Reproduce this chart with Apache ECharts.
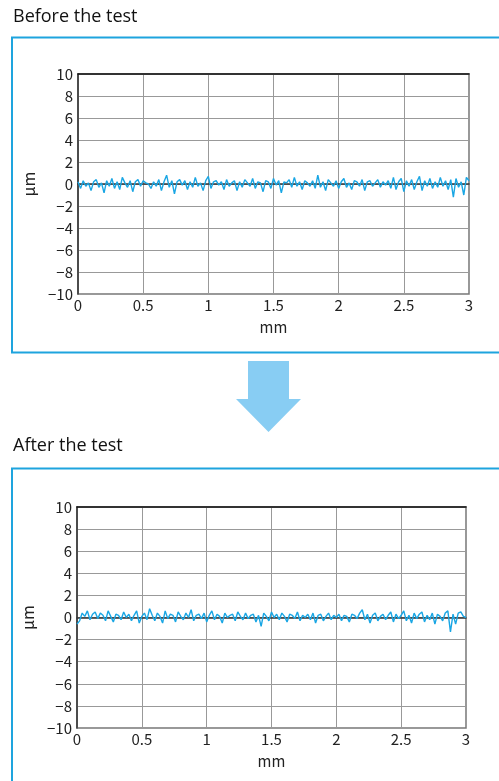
<!DOCTYPE html>
<html>
<head>
<meta charset="utf-8">
<script src="https://cdn.jsdelivr.net/npm/echarts@6/dist/echarts.min.js"></script>
<style>
    html, body { margin: 0; padding: 0; background: #fff; }
    #chart { width: 499px; height: 781px; }
</style>
</head>
<body>
<div id="chart"></div>
<script>
var panelTitles = ['Before the test', 'After the test'];
var xMin = 0, xMax = 3, xInterval = 0.5;
var yMin = -10, yMax = 10, yInterval = 2;
var sampleStep = 0.02;   // mm between profile samples

// roughness profile before the test, um
var beforeValues = [
    0.2, -0.4, 0.3, -0.2, 0.1, -0.6, 0.2, 0.4, -0.3, 0.1,
    -0.8, 0.3, -0.2, 0.5, -0.4, 0.2, -0.5, 0.6, 0.1, -0.3,
    0.3, -0.7, 0.2, 0.4, -0.2, 0.3, 0.1, 0.0, -0.4, 0.2,
    -0.2, 0.4, -0.6, 0.2, 0.8, -0.3, 0.3, -0.9, 0.2, 0.4,
    -0.1, 0.3, -0.5, 0.2, -0.3, 0.6, -0.2, 0.1, -0.6, 0.3,
    0.7, -0.4, 0.2, 0.3, -0.1, 0.2, -0.5, 0.4, -0.2, 0.1,
    0.3, -0.6, 0.2, -0.3, 0.4, 0.1, -0.2, 0.5, -0.4, 0.2,
    0.1, -0.7, 0.3, 0.2, -0.4, 0.5, -0.1, 0.3, -0.8, 0.2,
    0.1, 0.4, -0.3, 0.6, -0.2, 0.2, -0.5, 0.3, 0.1, -0.2,
    0.3, -0.4, 0.8, -0.3, 0.2, -0.6, 0.4, 0.1, -0.2, 0.3,
    -0.4, 0.2, 0.5, -0.3, 0.1, -0.5, 0.3, 0.2, -0.2, 0.4,
    -0.6, 0.2, 0.3, -0.2, 0.1, 0.4, -0.3, 0.2, -0.1, 0.3,
    -0.4, 0.6, -0.5, 0.2, 0.5, -0.7, 0.3, -0.2, 0.4, -0.5,
    0.2, 0.7, -0.6, 0.3, -0.2, 0.5, -0.4, 0.2, -0.3, 0.6,
    -0.2, 0.3, -0.5, 0.4, -1.2, 0.5, -0.3, 0.2, -1.0, 0.6,
    0.3
];

// roughness profile after the test, um
var afterValues = [
    -0.6, -0.3, 0.4, 0.1, 0.6, -0.2, 0.3, 0.5, -0.1, 0.4,
    0.2, -0.3, 0.6, 0.1, -0.4, 0.3, 0.2, -0.2, 0.5, 0.0,
    0.3, -0.3, 0.2, 0.6, -0.5, 0.1, 0.4, -0.2, 0.8, 0.2,
    -0.3, 0.4, 0.1, -0.5, 0.6, -0.1, 0.3, 0.2, -0.4, 0.5,
    0.1, -0.2, 0.4, 0.0, 0.7, -0.3, 0.2, 0.3, -0.1, 0.4,
    -0.4, 0.2, 0.6, -0.2, 0.3, 0.1, -0.5, 0.4, 0.0, 0.2,
    0.3, -0.3, 0.5, 0.1, -0.2, 0.4, -0.1, 0.2, 0.3, -0.4,
    0.2, -0.8, 0.4, 0.1, -0.3, 0.5, 0.0, 0.3, -0.2, 0.4,
    0.1, -0.4, 0.3, 0.2, -0.1, 0.5, -0.3, 0.2, 0.0, 0.3,
    -0.2, 0.4, -0.5, 0.2, 0.3, -0.3, 0.1, 0.4, -0.2, 0.2,
    0.0, 0.3, -0.3, 0.2, 0.1, -0.4, 0.3, 0.2, -0.1, 0.4,
    0.7, -0.2, 0.3, -0.5, 0.2, 0.4, -0.3, 0.1, 0.3, -0.2,
    0.2, 0.5, -0.4, 0.3, -0.1, 0.2, 0.6, -0.3, 0.2, -0.5,
    0.4, -0.1, 0.3, 0.5, -0.4, 0.2, -0.2, 0.4, -0.6, 0.3,
    0.1, -0.3, 0.4, 0.6, -1.3, 0.3, -0.6, 0.4, 0.5, 0.1,
    0.0
];

var lineColor = '#19a6e4';
var frameColor = '#1ea4de';
var labelFont = '"Noto Sans CJK JP", "DejaVu Sans", sans-serif';

function toPoints(values) {
    var pts = [];
    for (var i = 0; i < values.length; i++) {
        pts.push([+(i * sampleStep).toFixed(2), values[i]]);
    }
    return pts;
}

function fmtY(v) {
    return String(v).replace('-', '\u2212');
}

var grids = [
    {left: 78, top: 74, width: 391, height: 220},
    {left: 77, top: 507, width: 389, height: 221}
];

var xAxes = [], yAxes = [], series = [];
for (var g = 0; g < 2; g++) {
    grids[g].show = true;
    grids[g].borderColor = '#777';
    grids[g].borderWidth = 1.5;
    grids[g].backgroundColor = '#fff';

    xAxes.push({
        gridIndex: g,
        type: 'value',
        min: xMin, max: xMax, interval: xInterval,
        name: 'mm',
        nameLocation: 'middle',
        nameGap: 26,
        nameTextStyle: {color: '#222', fontSize: 15, fontFamily: labelFont},
        axisLine: {show: true, lineStyle: {color: '#333', width: 1.5}},
        axisTick: {show: false},
        axisLabel: {color: '#222', fontSize: 15, margin: 4, fontFamily: labelFont},
        splitLine: {show: true, lineStyle: {color: '#999', width: 1}}
    });
    // top edge drawn darker
    xAxes.push({
        gridIndex: g,
        type: 'value',
        position: 'top',
        min: xMin, max: xMax, interval: xInterval,
        axisLine: {show: true, onZero: false, lineStyle: {color: '#111', width: 1.5}},
        axisTick: {show: false},
        axisLabel: {show: false},
        splitLine: {show: false}
    });
    yAxes.push({
        gridIndex: g,
        type: 'value',
        min: yMin, max: yMax, interval: yInterval,
        name: '\u03bcm',
        nameLocation: 'middle',
        nameRotate: 90,
        nameGap: 37,
        nameTextStyle: {color: '#222', fontSize: 16, fontFamily: labelFont},
        axisLine: {show: true, onZero: false, lineStyle: {color: '#333', width: 1.5}},
        axisTick: {show: false},
        axisLabel: {color: '#222', fontSize: 15, margin: 5, fontFamily: labelFont, formatter: fmtY},
        splitLine: {show: true, lineStyle: {color: '#999', width: 1}}
    });
    series.push({
        type: 'line',
        xAxisIndex: g * 2,
        yAxisIndex: g,
        data: toPoints(g === 0 ? beforeValues : afterValues),
        showSymbol: false,
        symbol: 'none',
        lineStyle: {color: lineColor, width: 1.4},
        animation: false,
        z: 5
    });
}

var chart = echarts.init(document.getElementById('chart'));
chart.setOption({
    backgroundColor: '#fff',
    animation: false,
    title: [
        {text: panelTitles[0], left: 8, top: 3,
            textStyle: {color: '#111', fontSize: 18, fontWeight: 'normal', fontFamily: '"Open Sans", sans-serif'}},
        {text: panelTitles[1], left: 8, top: 432,
            textStyle: {color: '#111', fontSize: 18, fontWeight: 'normal', fontFamily: '"Open Sans", sans-serif'}}
    ],
    graphic: [
        {type: 'rect', shape: {x: 12, y: 37.5, width: 500, height: 315},
            style: {fill: 'none', stroke: frameColor, lineWidth: 2}, z: -1},
        {type: 'rect', shape: {x: 12, y: 468.5, width: 500, height: 400},
            style: {fill: 'none', stroke: frameColor, lineWidth: 2}, z: -1},
        {type: 'polygon',
            shape: {points: [[248, 361], [289, 361], [289, 399], [301, 399], [268.5, 432], [236, 399], [248, 399]]},
            style: {fill: '#88cdf3'}}
    ],
    grid: grids,
    xAxis: xAxes,
    yAxis: yAxes,
    series: series
});
</script>
</body>
</html>
